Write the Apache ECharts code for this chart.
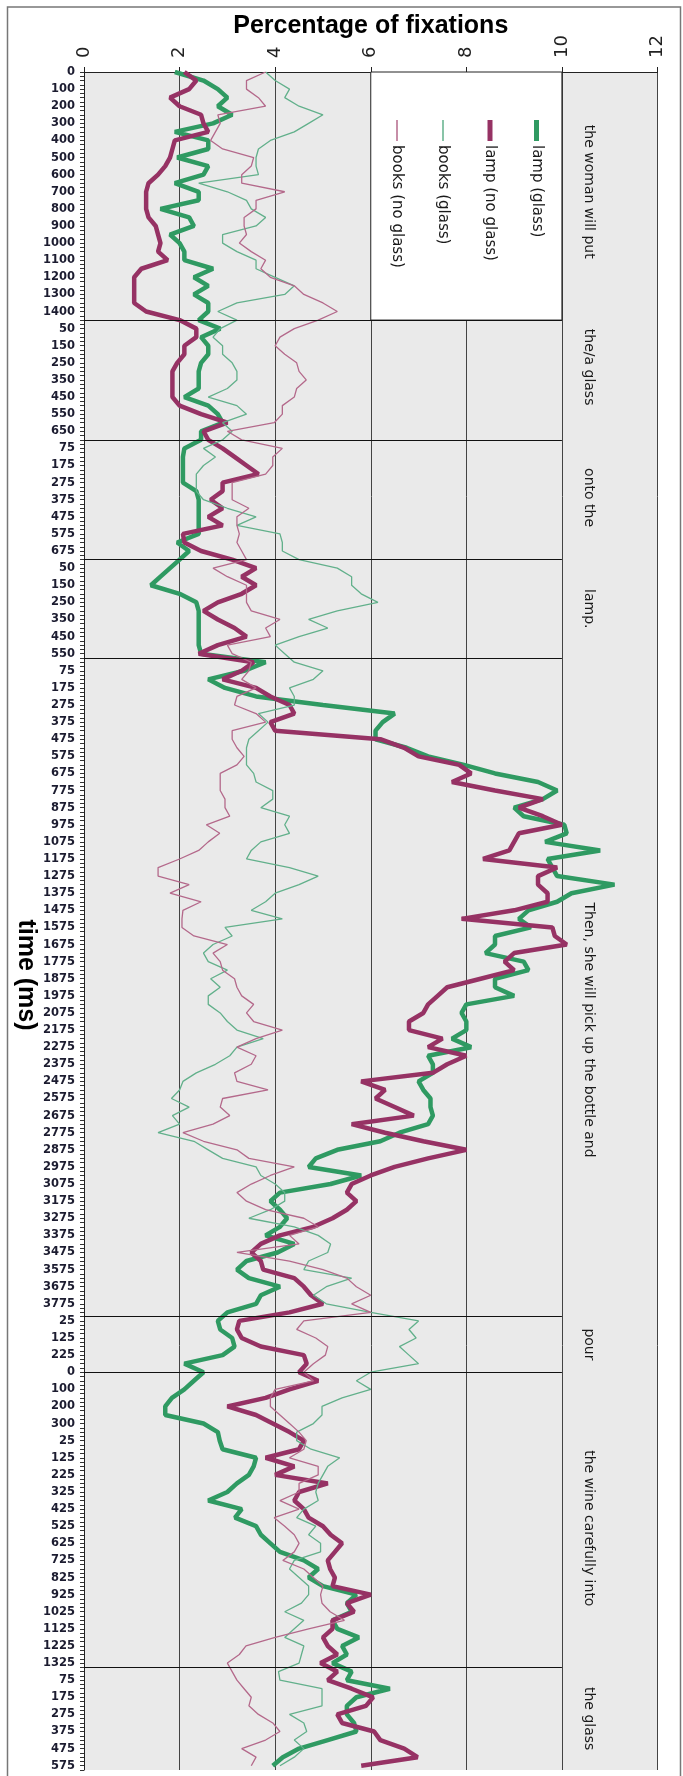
<!DOCTYPE html>
<html>
<head>
<meta charset="utf-8">
<title>Percentage of fixations</title>
<script src="https://cdn.jsdelivr.net/npm/echarts/dist/echarts.min.js"></script>
<style>
  html, body { margin: 0; padding: 0; background: #fff; }
  #chart { width: 683px; height: 1776px; }
</style>
</head>
<body>
<div id="chart"></div>
<script>
// time blocks (one per word region), 25 ms bins
const blockStart = [0, 0, 25, 0, 0, 0, 0, 0, 0];
const blockCount = [58, 28, 28, 23, 154, 13, 15, 54, 25];
const blockLines = [58, 86, 114, 137, 291, 304, 373];

const phrases = ['the woman will put', 'the/a glass', 'onto the', 'lamp.',
  'Then, she will pick up the bottle and', 'pour', 'the wine carefully into', 'the glass'];
const phraseFrom = [0, 58, 86, 114, 157, 291, 306, 373];
const phraseTo = [56, 80, 113, 137, 291, 304, 375, 397];

const seriesNames = ['lamp (glass)', 'lamp (no glass)', 'books (glass)', 'books (no glass)'];
const seriesColors = ['#2f9a62', '#963264', '#62b08b', '#b4698b'];
const seriesWidths = [4.5, 4.5, 1.3, 1.3];

// values read every second bin (0, 50, 100 ms ...)
const lampGlass = [
  1.9, 2.5, 2.8, 3.0, 2.8, 3.1, 2.7, 1.9, 2.6, 2.6, 1.95, 2.6, 2.5, 1.9, 2.4, 2.4, 1.6, 2.2, 2.3, 1.8, 2.0, 2.1, 2.1, 2.7, 2.3, 2.6, 2.3, 2.6, 2.6,
  2.4, 2.85, 2.45, 2.6, 2.6, 2.45, 2.4, 2.4, 2.4, 2.1, 2.6, 2.8, 2.9, 2.45,
  2.45, 2.1, 2.07, 2.07, 2.07, 2.07, 2.35, 2.4, 2.4, 2.4, 2.4, 2.4, 1.95, 2.2,
  2.0, 1.8, 1.6, 1.4, 2.0, 2.35, 2.4, 2.4, 2.4, 2.4, 2.4, 2.45,
  3.8, 3.35, 2.6, 2.95, 3.6, 5.0, 6.5, 6.25, 6.1, 6.1, 6.75, 7.2, 7.95, 8.6, 9.5, 9.9, 9.6, 9.0, 9.2, 10.05, 10.1, 9.65, 10.8, 9.7, 9.8, 9.9, 11.1, 10.2, 9.9, 9.3, 9.1, 9.35, 8.6,
  8.6, 8.4, 9.2, 9.3, 8.6, 8.6, 9.0, 8.0, 7.9, 8.0, 8.0, 7.7, 8.1, 7.2, 7.3, 7.3, 7.0, 7.1, 7.25, 7.25, 7.3, 7.2, 6.6, 6.2, 5.3, 4.85, 4.7, 5.8, 5.16, 4.1,
  3.9, 4.1, 4.25, 4.1, 3.8, 4.4, 4.05, 3.4, 3.2, 3.45, 4.1, 3.7, 3.6, 3.0,
  2.8, 2.85, 3.1, 3.15, 2.9, 2.1,
  2.5, 2.3, 2.1, 1.84, 1.7, 1.7, 2.5, 2.8, 2.84, 2.9, 3.6, 3.55, 3.45, 3.2, 3.0, 2.6,
  3.3, 3.16, 3.6, 3.7, 3.9, 4.1, 4.6, 4.9, 4.7, 5.0, 5.7, 5.5, 5.6, 5.2, 5.3, 5.75, 5.4, 5.5, 5.2,
  5.6, 5.5, 6.4, 5.7, 5.5, 5.5, 5.65, 5.7, 5.1, 4.5, 4.16, 3.95
];
const lampNoGlass = [
  2.1, 2.35, 2.2, 1.8, 2.0, 2.45, 2.5, 2.6, 1.9, 1.85, 1.8, 1.7, 1.55, 1.35, 1.3, 1.3, 1.3, 1.35, 1.5, 1.55, 1.6, 1.55, 1.75, 1.2, 1.05, 1.05, 1.05, 1.05, 1.3,
  2.0, 2.35, 2.35, 2.1, 2.1, 1.95, 1.85, 1.85, 1.85, 1.85, 2.0, 2.45, 3.0, 2.5,
  2.6, 2.9, 3.15, 3.4, 3.65, 2.9, 2.9, 2.65, 2.9, 2.6, 2.9, 2.07, 2.1, 2.45,
  3.1, 3.6, 3.3, 3.6, 3.3, 2.8, 2.5, 2.8, 3.15, 3.4, 2.8, 2.4,
  3.55, 3.3, 2.9, 3.6, 3.9, 4.3, 4.4, 3.9, 4.0, 6.2, 6.7, 7.0, 7.85, 8.1, 7.7, 8.6, 9.6, 9.1, 9.6, 10.0, 9.1, 9.0, 8.9, 8.35, 9.9, 9.5, 9.5, 9.7, 9.7, 9.0, 7.9, 9.8, 9.85,
  10.1, 9.0, 8.8, 9.0, 8.3, 7.6, 7.4, 7.2, 7.1, 6.8, 6.8, 7.5, 7.2, 8.0, 7.6, 7.3, 5.8, 6.3, 6.1, 6.5, 6.9, 5.6, 6.3, 7.1, 8.0, 7.2, 6.5, 6.0, 5.6, 5.5,
  5.7, 5.5, 5.2, 4.8, 4.1, 3.7, 3.5, 3.7, 3.75, 4.4, 4.6, 4.75, 5.0, 4.3,
  3.25, 3.2, 3.3, 3.7, 4.6, 4.66,
  4.5, 4.9, 4.3, 3.8, 3.0, 3.6, 3.95, 4.3, 4.6, 4.5, 3.8, 4.4, 4.0, 5.1, 4.5, 4.4,
  4.6, 4.7, 5.0, 5.16, 5.4, 5.25, 5.1, 5.15, 5.25, 5.2, 6.0, 5.5, 5.65, 5.2, 5.2, 5.0, 5.1, 5.3, 4.95,
  5.3, 5.1, 5.6, 6.05, 5.9, 5.3, 5.4, 6.07, 6.2, 6.7, 6.98, 5.8
];
const booksGlass = [
  3.8, 4.0, 4.3, 4.2, 4.5, 5.0, 4.7, 4.4, 3.9, 3.65, 3.6, 3.6, 3.65, 2.4, 3.0, 3.4, 3.5, 3.8, 3.6, 2.9, 2.9, 3.2, 3.6, 3.6, 4.0, 4.4, 4.2, 3.2, 2.8,
  3.2, 2.85, 2.7, 2.9, 2.9, 3.1, 3.2, 3.2, 3.0, 2.6, 3.2, 3.4, 2.9, 3.1,
  2.9, 2.5, 2.75, 2.5, 2.35, 2.35, 2.35, 2.5, 3.0, 3.6, 3.2, 4.1, 4.15, 4.15,
  4.5, 5.3, 5.6, 5.6, 5.8, 6.15, 5.3, 4.7, 5.1, 4.5, 4.0, 4.2,
  4.4, 5.0, 4.8, 4.3, 4.4, 4.4, 3.65, 3.85, 3.65, 3.45, 3.4, 3.4, 3.4, 3.55, 3.6, 3.95, 3.95, 3.7, 4.3, 4.2, 4.3, 3.7, 3.5, 3.4, 4.3, 4.9, 4.5, 4.0, 3.8, 3.5, 4.15, 2.95, 3.1,
  2.7, 2.5, 2.6, 3.0, 2.65, 2.85, 2.6, 2.6, 2.85, 3.0, 3.2, 3.75, 3.2, 3.05, 2.75, 2.35, 2.07, 2.0, 1.83, 2.2, 1.85, 2.0, 1.55, 2.3, 2.6, 2.9, 3.6, 3.7, 4.0, 4.2,
  4.2, 3.9, 3.45, 4.4, 4.9, 5.16, 5.1, 4.7, 4.6, 5.6, 5.07, 4.8, 5.07, 6.0,
  7.0, 6.8, 6.95, 6.6, 6.8, 7.0,
  6.0, 5.7, 6.0, 5.4, 4.98, 4.98, 4.8, 4.45, 4.45, 4.75, 5.35, 5.1, 5.0, 4.9, 4.85, 4.9,
  4.6, 4.45, 4.85, 4.7, 4.95, 4.95, 4.4, 4.3, 4.5, 4.7, 4.7, 4.55, 4.2, 4.6, 4.4, 4.2, 4.6, 4.55, 4.5,
  4.07, 4.1, 4.98, 4.98, 4.98, 4.3, 4.6, 4.66, 4.4, 4.6, 4.4, 4.1
];
const booksNoGlass = [
  3.8, 3.4, 3.4, 3.65, 3.8, 2.8, 2.85, 2.75, 2.65, 2.9, 3.55, 3.5, 3.3, 3.3, 4.2, 3.6, 3.6, 3.35, 3.35, 3.4, 3.25, 3.5, 3.8, 3.7, 3.9, 4.4, 4.6, 5.0, 5.3,
  4.9, 4.4, 4.1, 4.0, 4.2, 4.45, 4.5, 4.65, 4.45, 4.4, 4.15, 4.15, 3.98, 3.0,
  3.3, 4.15, 3.95, 3.95, 3.8, 3.1, 3.1, 3.1, 3.45, 3.2, 3.2, 3.25, 3.2, 3.3,
  3.4, 2.7, 3.0, 3.4, 3.4, 3.4, 3.5, 4.1, 3.8, 3.9, 3.0, 3.1,
  3.5, 3.45, 3.3, 3.6, 3.2, 3.15, 3.6, 3.8, 3.1, 3.1, 3.2, 3.35, 3.2, 2.85, 2.85, 2.85, 2.95, 2.95, 3.05, 2.56, 2.84, 2.6, 2.4, 2.0, 1.55, 1.55, 2.2, 1.8, 2.45, 2.07, 2.05, 2.05, 2.3,
  3.0, 2.7, 2.85, 2.9, 3.15, 3.2, 3.3, 3.55, 3.4, 3.55, 4.15, 3.6, 3.2, 3.6, 3.5, 3.15, 3.2, 3.85, 2.9, 2.85, 3.05, 2.7, 2.07, 2.5, 3.2, 3.45, 4.4, 3.9, 3.5, 3.2,
  3.4, 3.8, 4.6, 4.9, 4.3, 4.5, 3.2, 4.3, 5.0, 5.5, 5.7, 6.0, 5.6, 6.0,
  4.6, 4.45, 4.85, 5.1, 5.05, 4.8,
  4.6, 4.8, 4.0, 3.9, 3.9, 4.1, 4.3, 4.5, 4.65, 4.6, 4.3, 4.9, 4.9, 4.5, 4.5, 4.1,
  4.5, 3.98, 4.2, 4.4, 4.5, 4.4, 4.16, 4.6, 4.8, 5.0, 4.95, 4.98, 5.15, 5.45, 4.7, 4.0, 3.39, 3.25, 3.0,
  3.1, 3.2, 3.35, 3.5, 3.45, 3.65, 3.95, 4.1, 3.8, 3.3, 3.6, 3.5
];

const sampleStep = 2;
const timeLabels = [];
blockStart.forEach(function (t0, b) {
  for (let k = 0; k < blockCount[b]; k++) timeLabels.push(String(t0 + k * 25));
});

function pairs(vals) {
  return vals.map(function (v, i) { return [v, i * sampleStep]; });
}

const allValues = [lampGlass, lampNoGlass, booksGlass, booksNoGlass];

const legendX = [536.5, 490, 443, 397];
const legendTop = 120;

var myChart = echarts.init(document.getElementById('chart'), null, { renderer: 'canvas' });

var series = seriesNames.map(function (name, i) {
  return {
    name: name,
    type: 'line',
    data: pairs(allValues[i]),
    symbol: 'none',
    smooth: false,
    lineStyle: { color: seriesColors[i], width: seriesWidths[i] },
    itemStyle: { color: seriesColors[i] },
    emphasis: { disabled: true },
    z: 3
  };
});

// legend box, word labels and block separators hang on the first series
series[0].markArea = {
  silent: true,
  label: {
    show: true, position: 'inside', rotate: -90,
    fontFamily: 'DejaVu Sans', fontSize: 14, color: '#1a1a1a'
  },
  data: [[
    { name: '', xAxis: 6, yAxis: 0, itemStyle: { color: '#ffffff', borderColor: '#222', borderWidth: 1 } },
    { xAxis: 10, yAxis: blockLines[0] }
  ]].concat(phrases.map(function (p, i) {
    return [
      { name: p, xAxis: 10, yAxis: phraseFrom[i], itemStyle: { color: 'rgba(0,0,0,0)' } },
      { xAxis: 11.1, yAxis: phraseTo[i] }
    ];
  }))
};
series[0].markLine = {
  silent: true,
  symbol: ['none', 'none'],
  label: { show: false },
  lineStyle: { color: '#111', width: 1.2, type: 'solid' },
  data: blockLines.map(function (b) { return [{ coord: [0, b] }, { coord: [10, b] }]; })
};

var graphics = [
  {
    type: 'rect', silent: true, z: 100,
    shape: { x: 7.5, y: 7, width: 673, height: 1820 },
    style: { fill: 'none', stroke: '#777', lineWidth: 1.5 }
  },
  {
    type: 'text', x: 26, y: 975, rotation: -Math.PI / 2, silent: true, z: 100,
    style: {
      text: 'time (ms)', font: 'bold 25px "Liberation Sans"', fill: '#000',
      align: 'center', verticalAlign: 'middle'
    }
  }
];
seriesNames.forEach(function (name, i) {
  graphics.push({
    type: 'line', silent: true, z: 100,
    shape: { x1: legendX[i], y1: legendTop, x2: legendX[i], y2: legendTop + 21 },
    style: { stroke: seriesColors[i], lineWidth: i < 2 ? 5 : 1.5 }
  });
  graphics.push({
    type: 'text', silent: true, z: 100, x: legendX[i], y: legendTop + 25, rotation: -Math.PI / 2,
    style: {
      text: name, font: '15px "DejaVu Sans"', fill: '#1a1a1a',
      align: 'left', verticalAlign: 'middle'
    }
  });
});

var option = {
  animation: false,
  backgroundColor: '#ffffff',
  grid: {
    left: 84, top: 72, right: 25.5, bottom: 6,
    show: true, backgroundColor: '#eaeaea', borderWidth: 0,
    outerBoundsMode: 'none', containLabel: false
  },
  xAxis: {
    type: 'value', position: 'top', min: 0, max: 12, interval: 2,
    name: 'Percentage of fixations', nameLocation: 'middle', nameGap: 33,
    nameMoveOverlap: false,
    nameTextStyle: { fontFamily: 'Liberation Sans', fontWeight: 'bold', fontSize: 25, color: '#000' },
    axisLine: { show: true, lineStyle: { color: '#222', width: 1 } },
    axisTick: { show: true, length: 5, lineStyle: { color: '#222' } },
    axisLabel: { rotate: -90, margin: 14, fontFamily: 'DejaVu Sans', fontSize: 18, color: '#222' },
    splitLine: { show: true, lineStyle: { color: '#444', width: 1 } }
  },
  yAxis: {
    type: 'category', inverse: true, boundaryGap: false, data: timeLabels,
    axisLine: { show: true, onZero: false, lineStyle: { color: '#222', width: 1 } },
    axisTick: { show: true, interval: 0, length: 4, lineStyle: { color: '#333' } },
    axisLabel: {
      interval: 3, margin: 9, fontFamily: 'DejaVu Sans', fontWeight: 'bold',
      fontSize: 11.5, color: '#1c1c30'
    },
    splitLine: { show: false }
  },
  graphic: graphics,
  series: series
};

if (option && typeof option === 'object') {
  myChart.setOption(option, true);
}
</script>
</body>
</html>
